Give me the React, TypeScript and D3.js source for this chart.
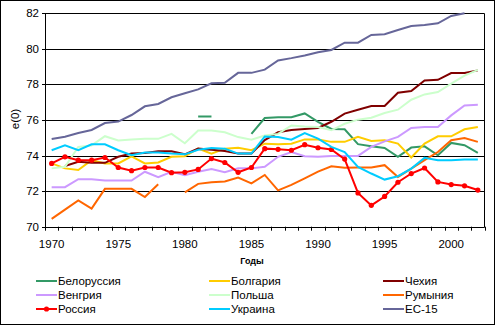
import React from "react";
import * as d3 from "d3";

const years: number[] = d3.range(1970, 2003);
const yTicks: number[] = [70, 72, 74, 76, 78, 80, 82];
const xLabelYears: number[] = [1970, 1975, 1980, 1985, 1990, 1995, 2000];

type V = number | null;
const _ = null;

const belarus: V[] = [_, _, _, _, _, _, _, _, _, _, _, 76.19, 76.19, _, _, 75.22, 76.11, 76.15, 76.15, 76.37, 75.9, 75.5, 75.48, 74.64, 74.52, 74.43, 73.93, 74.45, 74.52, 74.02, 74.71, 74.58, 74.15];
const bulgaria: V[] = [73.56, 73.28, 73.19, 73.74, 73.56, 73.56, 73.96, 73.56, 73.61, 73.93, 73.96, 74.39, 74.11, 74.39, 74.44, 74.3, 74.67, 74.63, 74.67, 74.91, 74.9, 74.77, 74.77, 75.05, 74.82, 74.86, 74.67, 73.89, 74.67, 75.08, 75.08, 75.48, 75.61];
const czech: V[] = [_, 73.41, 73.65, 73.59, 73.59, 73.93, 74.11, 74.15, 74.24, 74.24, 74.07, 74.39, 74.33, 74.26, 74.11, 74.11, 74.87, 75.31, 75.44, 75.5, 75.55, 75.9, 76.36, 76.58, 76.79, 76.79, 77.53, 77.63, 78.22, 78.26, 78.64, 78.64, 78.79];
const hungary: V[] = [72.22, 72.22, 72.67, 72.67, 72.6, 72.6, 72.6, 73.09, 72.78, 73.09, 72.9, 73.09, 73.24, 73.06, 73.28, 73.28, 73.37, 73.93, 74.2, 73.96, 73.93, 73.98, 73.98, 73.98, 74.49, 74.8, 75.05, 75.55, 75.6, 75.6, 76.26, 76.82, 76.86];
const poland: V[] = [73.28, 73.37, 74.48, 74.57, 75.09, 74.85, 74.91, 74.94, 74.94, 75.22, 74.69, 75.41, 75.41, 75.31, 75.04, 74.89, 75.13, 75.22, 75.69, 75.63, 75.6, 75.42, 75.79, 76.02, 76.13, 76.39, 76.58, 77.14, 77.44, 77.57, 78.04, 78.5, 78.82];
const romania: V[] = [70.44, 70.96, 71.48, 71.02, 72.13, 72.13, 72.13, 71.67, 72.39, _, 71.93, 72.41, 72.5, 72.54, 72.76, 72.44, 72.91, 72.04, 72.35, 72.72, 73.1, 73.4, 73.31, 73.33, 73.33, 73.46, 72.8, 73.27, 73.74, 74.2, 74.86, 74.99, 74.77];
const russia: V[] = [73.56, 73.93, 73.74, 73.74, 73.89, 73.33, 73.15, 73.33, 73.33, 73.04, 73.06, 73.22, 73.83, 73.61, 73.06, 73.33, 74.39, 74.35, 74.3, 74.61, 74.44, 74.34, 73.8, 71.9, 71.2, 71.7, 72.5, 72.99, 73.3, 72.52, 72.37, 72.3, 72.06];
const ukraine: V[] = [74.3, 74.57, 74.3, 74.63, 74.63, 74.3, 74.02, 74.17, 74.17, 74.11, 74.07, 74.33, 74.43, 74.39, 74.11, 74.11, 75.07, 75.04, 74.89, 75.26, 74.95, 74.49, 74.2, 73.36, 72.99, 72.65, 72.84, 73.27, 73.87, 73.74, 73.74, 73.78, 73.78];
const eu15: V[] = [74.93, 75.06, 75.27, 75.44, 75.83, 75.91, 76.28, 76.77, 76.9, 77.28, 77.5, 77.72, 78.06, 78.09, 78.65, 78.65, 78.83, 79.35, 79.48, 79.63, 79.81, 79.94, 80.35, 80.35, 80.78, 80.82, 81.06, 81.29, 81.34, 81.44, 81.85, 82.0, _];

const seriesNames: string[] = ["Белоруссия", "Болгария", "Чехия", "Венгрия", "Польша", "Румыния", "Россия", "Украина", "ЕС-15"];
const seriesColors: string[] = ["#339966", "#FFCC00", "#800000", "#CC99FF", "#CCFFCC", "#FF6600", "#FF0000", "#00CCFF", "#666699"];
const seriesData: V[][] = [belarus, bulgaria, czech, hungary, poland, romania, russia, ukraine, eu15];
const markerSeries = "Россия";

const W = 495, H = 325;
const L = 45, R = 484.5, T = 13.3, B = 226.7;
const FONT = "Arial, 'Liberation Sans', sans-serif";

export default function App() {
  const x = d3.scaleBand<number>().domain(years).range([L, R]).paddingInner(0).paddingOuter(0);
  const bw = x.bandwidth();
  const cx = (yr: number) => (x(yr) as number) + bw / 2;
  const y = d3.scaleLinear().domain([70, 82]).range([B, T]);

  const line = d3
    .line<{ yr: number; v: V }>()
    .defined((d) => d.v != null)
    .x((d) => cx(d.yr))
    .y((d) => y(d.v as number));

  const tickXs = years.map((yr) => x(yr) as number).concat([R]);

  const legendCols = [36, 209, 383];
  const legendRows = [281, 295, 309];

  return (
    <div style={{ position: "absolute", left: 0, top: 0 }}>
      <svg width={W} height={H} style={{ display: "block", background: "#fff" }} fontFamily={FONT}>
        <defs>
          <clipPath id="plotclip">
            <rect x={L} y={T - 2} width={R - L} height={B - T + 4} />
          </clipPath>
        </defs>
        <rect x={0.5} y={0.5} width={W - 1} height={H - 1} fill="#fff" stroke="#000" strokeWidth={1} />

        {/* gridlines */}
        {yTicks.map((t) => (
          <line key={"g" + t} x1={L} x2={R} y1={Math.round(y(t)) + 0.5} y2={Math.round(y(t)) + 0.5} stroke="#000" strokeWidth={1} />
        ))}
        {/* plot border */}
        <line x1={R} x2={R} y1={Math.round(T) + 0.5} y2={Math.round(B) + 0.5} stroke="#000" />
        <line x1={L + 0.5} x2={L + 0.5} y1={Math.round(T) + 0.5} y2={Math.round(B) + 0.5} stroke="#000" />

        {/* y ticks & labels */}
        {yTicks.map((t) => (
          <g key={"yt" + t}>
            <line x1={L - 3} x2={L} y1={Math.round(y(t)) + 0.5} y2={Math.round(y(t)) + 0.5} stroke="#000" />
            <text x={39} y={y(t) + 4} textAnchor="end" fontSize={11.5} fill="#000">
              {t}
            </text>
          </g>
        ))}
        {/* x ticks */}
        {tickXs.map((tx, i) => (
          <line key={"xt" + i} x1={Math.round(tx) + 0.5} x2={Math.round(tx) + 0.5} y1={B} y2={B + 4} stroke="#000" />
        ))}
        {xLabelYears.map((yr) => (
          <text key={"xl" + yr} x={cx(yr)} y={248} textAnchor="middle" fontSize={11.5} fill="#000">
            {yr}
          </text>
        ))}

        {/* axis titles */}
        <text transform={`translate(19,119) rotate(-90)`} textAnchor="middle" fontSize={11.5} fill="#000">
          e(0)
        </text>
        <text x={252} y={264} textAnchor="middle" fontSize={9} fontWeight="bold" fill="#000">
          Годы
        </text>

        {/* series */}
        <g clipPath="url(#plotclip)">
          {seriesData.map((arr, si) => {
            const pts = years.map((yr, i) => ({ yr, v: arr[i] }));
            return (
              <g key={"s" + si}>
                <path d={line(pts) || ""} fill="none" stroke={seriesColors[si]} strokeWidth={2} strokeLinejoin="miter" />
                {seriesNames[si] === markerSeries &&
                  pts
                    .filter((p) => p.v != null)
                    .map((p) => (
                      <circle key={p.yr} cx={cx(p.yr)} cy={y(p.v as number)} r={2.6} fill={seriesColors[si]} />
                    ))}
              </g>
            );
          })}
        </g>

        {/* legend */}
        {seriesNames.map((name, i) => {
          const col = i % 3;
          const row = Math.floor(i / 3);
          const lx = legendCols[col];
          const ly = legendRows[row];
          return (
            <g key={"lg" + i}>
              <line x1={lx} x2={lx + 21} y1={ly} y2={ly} stroke={seriesColors[i]} strokeWidth={2} />
              {name === markerSeries && <circle cx={lx + 10.5} cy={ly} r={2.6} fill={seriesColors[i]} />}
              <text x={lx + 22} y={ly + 4} fontSize={11.5} fill="#000">
                {name}
              </text>
            </g>
          );
        })}
      </svg>
    </div>
  );
}
